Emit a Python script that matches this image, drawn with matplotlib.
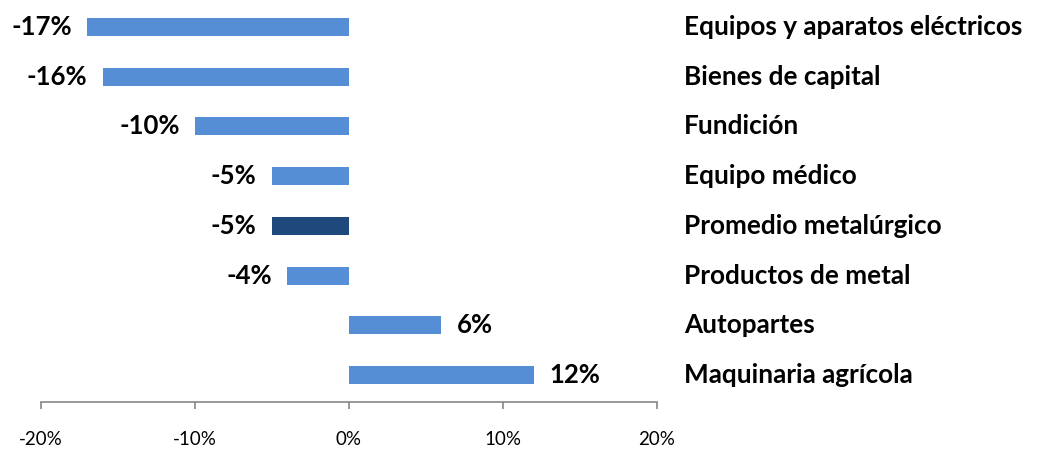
import matplotlib
matplotlib.use("Agg")
import matplotlib.pyplot as plt

categories = ["Equipos y aparatos eléctricos", "Bienes de capital", "Fundición",
              "Equipo médico", "Promedio metalúrgico", "Productos de metal",
              "Autopartes", "Maquinaria agrícola"]
values = [-17, -16, -10, -5, -5, -4, 6, 12]
highlight = "Promedio metalúrgico"
xticks = [-20, -10, 0, 10, 20]

FONT = "Lato"
light = "#558ED5"
dark = "#1F497D"

fig = plt.figure(figsize=(10.38, 4.5), dpi=100)
ax = fig.add_axes([41/1038, 48/450, (657-41)/1038, 402/450])

ypos = list(range(len(categories)))
colors = [dark if c == highlight else light for c in categories]
ax.barh(ypos, values, height=0.36, color=colors)

ax.set_xlim(-20, 20)
ax.set_ylim(7.54, -0.54)
ax.set_xticks(xticks)
ax.set_xticklabels([f"{t}%" for t in xticks], fontsize=13.5, fontfamily=FONT)
ax.set_yticks([])
for s in ["top", "right", "left"]:
    ax.spines[s].set_visible(False)
ax.spines["bottom"].set_color("#868686")
ax.spines["bottom"].set_linewidth(1.2)
ax.tick_params(axis="x", direction="out", length=5, width=1.2, color="#868686", pad=16)

for y, v in zip(ypos, values):
    if v < 0:
        ax.annotate(f"{v}%", (v, y), xytext=(-11, 0), textcoords="offset points",
                    ha="right", va="center", fontsize=18.5, fontweight="bold", fontfamily=FONT)
    else:
        ax.annotate(f"{v}%", (v, y), xytext=(11, 0), textcoords="offset points",
                    ha="left", va="center", fontsize=18.5, fontweight="bold", fontfamily=FONT)

for y, c in zip(ypos, categories):
    ax.annotate(c, (1, y), xycoords=("axes fraction", "data"), xytext=(19.5, 0),
                textcoords="offset points", ha="left", va="center",
                fontsize=18.8, fontweight="bold", fontfamily=FONT)

fig.savefig("out.png", dpi=100)
